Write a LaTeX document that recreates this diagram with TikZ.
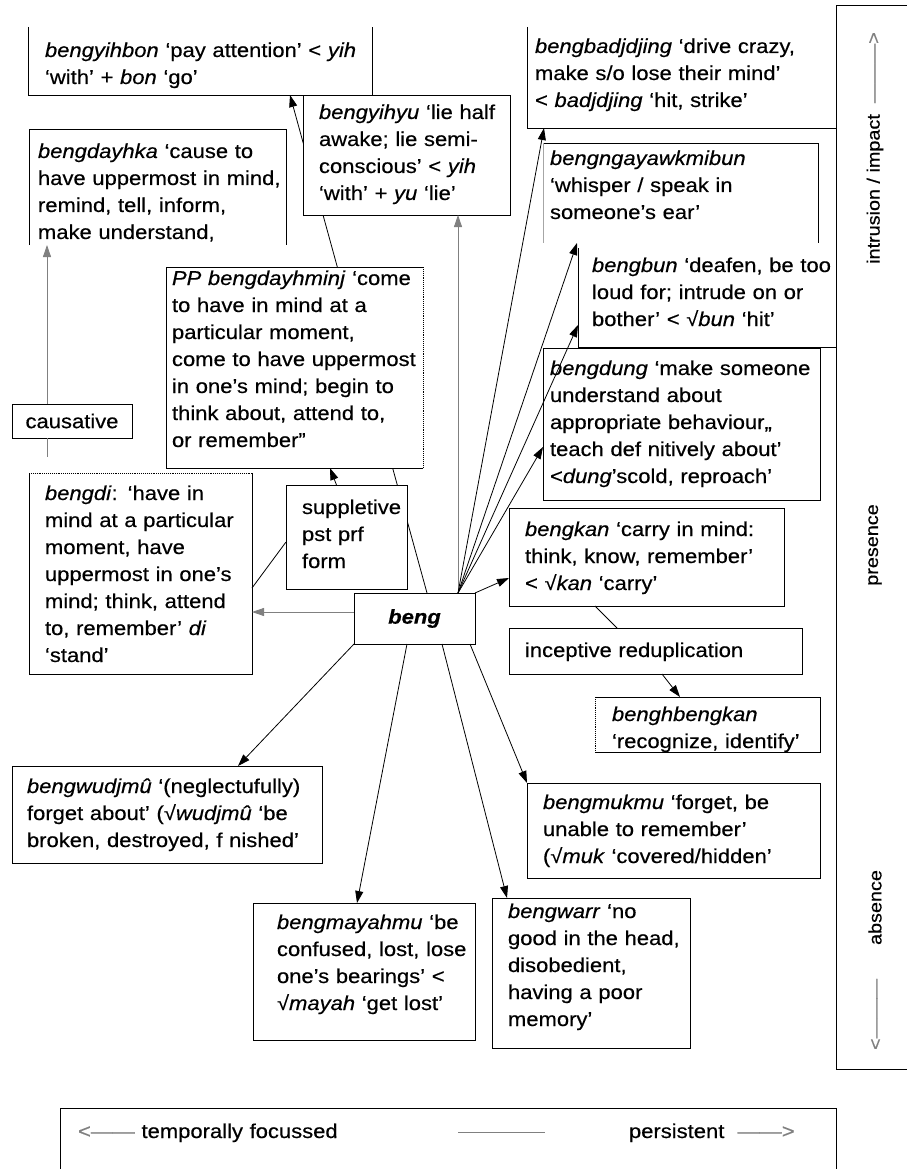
\documentclass[tikz,border=0pt]{standalone}
\usepackage{fontspec}
\setmainfont[FakeStretch=1.1,FakeBold=0.4]{Liberation Sans}
\usetikzlibrary{arrows.meta}
\pgfdeclarelayer{background}
\pgfsetlayers{background,main}
\begin{document}
\begin{tikzpicture}[x=1pt,y=-1pt,
  font=\fontsize{20}{27}\selectfont,
  box/.style={fill=white,inner sep=0pt,outer sep=0pt,anchor=north west,line width=0.9pt},
  full/.style={box,draw=black},
  edge/.style={line width=0.9pt,black},
  txt/.style={anchor=base west,inner sep=0pt,outer sep=0pt,align=left,text width=330pt},
  conn/.style={line width=0.8pt,-{Triangle[length=12pt,width=8pt]}},
  plain/.style={line width=0.8pt},
  side/.style={font=\fontsize{18}{22}\selectfont,rotate=90,inner sep=0pt}
]
\useasboundingbox (0,0) rectangle (906,1169);

% ---------- boxes ----------
\node[box,minimum width=344pt,minimum height=68pt] (yihbon) at (28,27) {};
\draw[edge] (yihbon.north west) -- (yihbon.south west) -- (yihbon.south east) -- (yihbon.north east);
\node[txt] (yihbonT) at (45,57) {\textit{bengyihbon} ‘pay attention’ < \textit{yih}\\‘with’ + \textit{bon} ‘go’};

\node[box,minimum width=257pt,minimum height=116pt] (dayhka) at (29,129) {};
\draw[edge] (dayhka.south west) -- (dayhka.north west) -- (dayhka.north east) -- (dayhka.south east);
\node[txt] (dayhkaT) at (38,158) {\textit{bengdayhka} ‘cause to\\have uppermost in mind,\\remind, tell, inform,\\make understand,};

\node[full,minimum width=207pt,minimum height=120pt] (yihyu) at (303,95) {};
\node[txt] (yihyuT) at (319,119) {\textit{bengyihyu} ‘lie half\\awake; lie semi-\\conscious’ < \textit{yih}\\‘with’ + \textit{yu} ‘lie’};

\node[box,minimum width=309pt,minimum height=101pt] (badj) at (527,27) {};
\draw[edge] (badj.north west) -- (badj.south west) -- (badj.south east);
\node[txt] (badjT) at (535,53) {\textit{bengbadjdjing} ‘drive crazy,\\make s/o lose their mind’\\< \textit{badjdjing} ‘hit, strike’};

\node[box,minimum width=275pt,minimum height=100pt] (ngay) at (543,143) {};
\draw[edge] (ngay.north west) -- (ngay.north east) -- (ngay.south east);
\draw[line width=0.9pt,gray!70] (ngay.north west) -- (ngay.south west);
\node[txt] (ngayT) at (550,165) {\textit{bengngayawkmibun}\\‘whisper / speak in\\someone’s ear’};

\node[box,minimum width=258pt,minimum height=99pt] (bun) at (578,248) {};
\draw[edge] (bun.north west) -- (bun.south west) -- (bun.south east);
\node[txt] (bunT) at (592,272) {\textit{bengbun} ‘deafen, be too\\loud for; intrude on or\\bother’ < √\textit{bun} ‘hit’};

\node[box,minimum width=257pt,minimum height=201pt] (PP) at (166,267) {};
\draw[edge] (PP.north east) -- (PP.north west) -- (PP.south west) -- (PP.south east);
\draw[edge,densely dotted] (PP.north east) -- (PP.south east);
\node[txt] (PPT) at (172,285) {\textit{PP bengdayhminj} ‘come\\to have in mind at a\\particular moment,\\come to have uppermost\\in one’s mind; begin to\\think about, attend to,\\or remember”};

\node[full,minimum width=121pt,minimum height=104pt] (supp) at (286,485) {};
\node[txt] (suppT) at (302,514) {suppletive\\pst prf\\form};

\node[full,minimum width=120pt,minimum height=34pt] (caus) at (12,404) {causative};

\node[box,minimum width=223pt,minimum height=201pt] (bengdi) at (29,473) {};
\draw[edge] (bengdi.north west) -- (bengdi.south west) -- (bengdi.south east) -- (bengdi.north east);
\draw[edge,densely dotted] (bengdi.north west) -- (bengdi.north east);
\node[txt] (bengdiT) at (45,500) {\textit{bengdi}: ‘have in\\mind at a particular\\moment, have\\uppermost in one’s\\mind; think, attend\\to, remember’ \textit{di}\\‘stand’};

\node[full,minimum width=121pt,minimum height=51pt] (beng) at (354,593) {\bfseries\itshape beng};

\node[full,minimum width=277pt,minimum height=152pt] (dung) at (543,348) {};
\node[txt] (dungT) at (550,375) {\textit{bengdung} ‘make someone\\understand about\\appropriate behaviour,,\\teach def nitively about’\\<\textit{dung}’scold, reproach’};

\node[full,minimum width=275pt,minimum height=98pt] (kan) at (509,508) {};
\node[txt] (kanT) at (525,536) {\textit{bengkan} ‘carry in mind:\\think, know, remember’\\< √\textit{kan} ‘carry’};

\node[full,minimum width=293pt,minimum height=46pt] (incep) at (509,628) {};
\node[txt] (incepT) at (525,657) {inceptive reduplication};

\node[box,minimum width=225pt,minimum height=55pt] (bengh) at (595,697) {};
\draw[edge] (bengh.north west) -- (bengh.north east) -- (bengh.south east) -- (bengh.south west);
\draw[edge,densely dotted] (bengh.north west) -- (bengh.south west);
\node[txt] (benghT) at (612,721) {\textit{benghbengkan}\\‘recognize, identify’};

\node[full,minimum width=310pt,minimum height=97pt] (wudj) at (12,766) {};
\node[txt] (wudjT) at (27,793) {\textit{bengwudjmû} ‘(neglectufully)\\forget about’ (√\textit{wudjmû} ‘be\\broken, destroyed, f nished’};

\node[full,minimum width=222pt,minimum height=137pt] (mayah) at (253,903) {};
\node[txt] (mayahT) at (277,929) {\textit{bengmayahmu} ‘be\\confused, lost, lose\\one’s bearings’ <\\√\textit{mayah} ‘get lost’};

\node[full,minimum width=198pt,minimum height=150pt] (warr) at (492,898) {};
\node[txt] (warrT) at (508,918) {\textit{bengwarr} ‘no\\good in the head,\\disobedient,\\having a poor\\memory’};

\node[full,minimum width=293pt,minimum height=95pt] (mukmu) at (527,783) {};
\node[txt] (mukmuT) at (543,809) {\textit{bengmukmu} ‘forget, be\\unable to remember’\\(√\textit{muk} ‘covered/hidden’};

% ---------- side panels ----------
\node[box,minimum width=80pt,minimum height=1064pt] (rpanel) at (836,5) {};
\draw[edge] (rpanel.north east) -- (rpanel.north west) -- (rpanel.south west) -- (rpanel.south east);
\node[side] (intr) at (875,148) {intrusion / impact\ \ {\color{gray}———>}};
\node[side] (pres) at (875,545) {presence};
\node[side] (absn) at (875,960) {{\color{gray}<———}\hspace{34pt}absence};

\node[box,minimum width=776pt,minimum height=70pt] (bpanel) at (60,1108) {};
\draw[edge] (bpanel.south west) -- (bpanel.north west) -- (bpanel.north east) -- (bpanel.south east);
\node[txt] (tf) at (78,1138) {{\color{gray}<——} temporally focussed};
\coordinate (m1) at (458,1132);
\coordinate (m2) at (545,1132);
\draw[plain,gray] (m1) -- (m2);
\node[txt] (pers) at (629,1138) {persistent\ \ {\color{gray}——>}};

% ---------- connectors ----------
\begin{pgfonlayer}{background}
\draw[conn] ([xshift=12.5pt]beng.north) -- ([xshift=262pt]yihbon.south west);
\end{pgfonlayer}
\draw[conn,gray] ([xshift=43.5pt]beng.north) -- ([xshift=51.5pt]yihyu.south);
\draw[conn] ([xshift=43.5pt]beng.north) -- ([xshift=17pt]badj.south west);
\draw[conn] ([xshift=43.5pt]beng.north) -- ([xshift=34pt]ngay.south west);
\draw[conn] ([xshift=43.5pt]beng.north) -- ([yshift=22pt]bun.south west);
\draw[conn] ([xshift=43.5pt]beng.north) -- ([yshift=53pt]dung.south west);
\draw[conn] (beng.north east) -- ([yshift=-21pt]kan.west);
\draw[conn] (beng.south west) -- ([xshift=71pt]wudj.north);
\draw[conn] ([xshift=-7.5pt]beng.south) -- ([xshift=-7pt]mayah.north);
\draw[conn] ([xshift=27.5pt]beng.south) -- ([xshift=15pt]warr.north west);
\draw[conn] ([xshift=55.5pt]beng.south) -- (mukmu.north west);
\draw[conn,gray] ([yshift=6.5pt]beng.west) -- ([yshift=6.5pt]beng.west -| bengdi.east);
\draw[conn,gray] ([xshift=-25pt]caus.north) -- ([xshift=18pt]dayhka.south west);
\coordinate (causend) at (47,457);
\draw[plain,gray] ([xshift=-25pt]caus.south) -- (causend);
\draw[plain] ([yshift=-14.5pt]bengdi.east) -- ([yshift=-5pt]supp.west);
\draw[conn] ([xshift=-10pt]supp.north) -- ([xshift=35.5pt]PP.south);
\draw[plain] ([xshift=86pt]kan.south west) -- ([xshift=108pt]incep.north west);
\draw[conn] ([xshift=153pt]incep.south west) -- ([xshift=85pt]bengh.north west);
\end{tikzpicture}
\end{document}
